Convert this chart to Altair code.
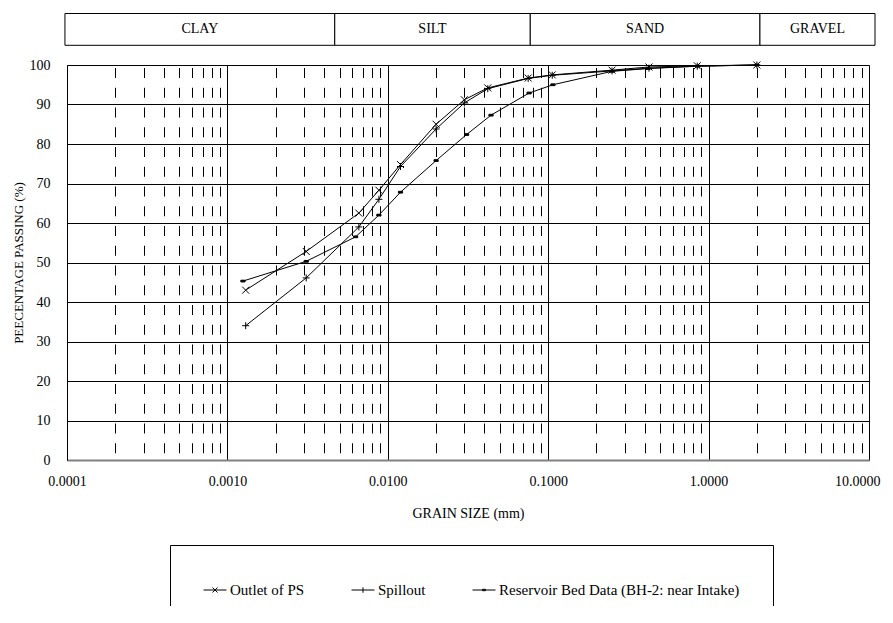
import altair as alt
import pandas as pd

# ---- data ----
series_names = ["Outlet of PS", "Spillout", "Reservoir Bed Data (BH-2: near Intake)"]

size_outlet = [0.0013, 0.0031, 0.0066, 0.0088, 0.012, 0.020, 0.030, 0.042, 0.075, 0.106, 0.25, 0.425, 0.85, 2.0]
pass_outlet = [43.0, 52.8, 62.5, 68.3, 74.8, 85.0, 91.2, 94.2, 96.7, 97.5, 98.7, 99.5, 99.8, 100.0]

size_spill = [0.0013, 0.0031, 0.0066, 0.0088, 0.012, 0.020, 0.030, 0.042, 0.075, 0.106, 0.25, 0.425, 0.85, 2.0]
pass_spill = [34.0, 46.1, 59.0, 66.0, 74.3, 83.8, 90.4, 94.0, 96.6, 97.4, 98.5, 99.2, 99.7, 100.0]

size_res = [0.00125, 0.0031, 0.0063, 0.0088, 0.012, 0.020, 0.031, 0.044, 0.076, 0.107, 0.25, 0.42, 0.86, 2.0]
pass_res = [45.3, 50.3, 56.5, 62.0, 67.8, 75.8, 82.4, 87.3, 92.9, 95.0, 98.4, 99.1, 99.7, 100.0]

band_names = ["CLAY", "SILT", "SAND", "GRAVEL"]
band_edges = [0.0000971, 0.00467, 0.0773, 2.09, 10.9]

y_ticks = [0, 10, 20, 30, 40, 50, 60, 70, 80, 90, 100]
x_ticks = [m * 10.0 ** k for k in range(-4, 1) for m in range(1, 10)] + [10.0]

# ---- tables ----
rows = []
for name, xs, ys in [(series_names[0], size_outlet, pass_outlet),
                     (series_names[1], size_spill, pass_spill),
                     (series_names[2], size_res, pass_res)]:
    for a, b in zip(xs, ys):
        rows.append({"series": name, "size": a, "pct": b})
df = pd.DataFrame(rows)

band = pd.DataFrame({
    "name": band_names,
    "lo": band_edges[:-1],
    "hi": band_edges[1:],
})
band["mid"] = (band["lo"] * band["hi"]) ** 0.5

FONT = "Liberation Serif, Times New Roman, DejaVu Serif, serif"
is_dec = "abs(log(datum.value)/LN10 - round(log(datum.value)/LN10)) < 0.001"

x_scale = alt.Scale(type="log", domain=[0.0001, 10])
y_scale = alt.Scale(domain=[0, 100])

x_axis = alt.Axis(
    values=x_ticks,
    labelExpr=f"({is_dec}) ? format(datum.value, '.4f') : ''",
    grid=True,
    gridColor="black",
    gridWidth=1,
    gridDash={"condition": {"test": is_dec, "value": []}, "value": [10, 9.75]},
    gridDashOffset=17.25,
    ticks=False,
    tickSize=0,
    domainColor="#808080",
    domainWidth=2,
    labelFont=FONT,
    labelFontSize=14,
    labelColor="black",
    labelPadding=14,
    labelFlush=False,
    labelOverlap=False,
    labelAlign={"condition": {"test": "datum.value >= 9", "value": "right"}, "value": "center"},
    labelOffset={"condition": {"test": "datum.value >= 9", "value": 11}, "value": 0},
    title="GRAIN SIZE (mm)",
    titleFont=FONT,
    titleFontSize=14,
    titleFontWeight="normal",
    titleColor="black",
    titlePadding=18,
)

y_axis = alt.Axis(
    values=y_ticks,
    tickCount=11,
    grid=True,
    gridColor="black",
    gridWidth=1,
    ticks=False,
    tickSize=0,
    domainColor="black",
    domainWidth=1,
    labelFont=FONT,
    labelFontSize=14,
    labelColor="black",
    labelPadding=17,
    labelOverlap=False,
    title="PEECENTAGE PASSING (%)",
    titleFont=FONT,
    titleFontSize=13,
    titleFontWeight="normal",
    titleColor="black",
    titlePadding=4,
)

X = alt.X("size:Q", scale=x_scale, axis=x_axis)
Y = alt.Y("pct:Q", scale=y_scale, axis=y_axis)

base = alt.Chart(df)

lines = base.mark_line(color="black", strokeWidth=1).encode(
    x=X, y=Y, detail="series:N",
)

marker_paths = [
    "M-1,-1L1,1M-1,1L1,-1",
    "M-1,0H1M0,-1V1",
    "M-0.6,-0.25H0.6V0.25H-0.6Z",
]
points = base.mark_point(filled=True, fill="black", stroke="black", strokeWidth=1,
                         size=49, opacity=1).encode(
    x=X, y=Y,
    shape=alt.Shape("series:N", scale=alt.Scale(domain=series_names, range=marker_paths),
                    legend=None),
)

legend_paths = [
    "M-1,0H1M-0.22,-0.22L0.22,0.22M-0.22,0.22L0.22,-0.22",
    "M-1,0H1M0,-0.24V0.24",
    "M-1,0H1M-0.13,-0.06H0.13V0.06H-0.13Z",
]
legend_layer = base.transform_filter("datum.pct > 1000").mark_point(
    filled=False, stroke="black", strokeWidth=1, size=529, opacity=1
).encode(
    x=X, y=Y,
    shape=alt.Shape(
        "series:N",
        scale=alt.Scale(domain=series_names, range=legend_paths),
        legend=alt.Legend(
            orient="none",
            legendX=103,
            legendY=480,
            direction="horizontal",
            title=None,
            strokeColor="black",
            fillColor="white",
            padding=33,
            columnPadding=44,
            symbolSize=529,
            symbolStrokeWidth=1,
            symbolStrokeColor="black",
            labelFont=FONT,
            labelFontSize=15,
            labelColor="black",
            labelOffset=3,
            labelLimit=400,
        ),
    ),
)

band_rect = alt.Chart(band).mark_rect(fill="white", stroke="black", strokeWidth=1,
                                      clip=False).encode(
    x=alt.X("lo:Q", scale=x_scale, axis=x_axis),
    x2="hi:Q",
    y=alt.value(-51.5),
    y2=alt.value(-19.7),
)
band_text = alt.Chart(band).mark_text(font=FONT, fontSize=14, color="black",
                                      baseline="middle", align="center").encode(
    x=alt.X("mid:Q", scale=x_scale, axis=x_axis),
    y=alt.value(-35.6),
    text="name:N",
)

chart = alt.layer(band_rect, band_text, lines, points, legend_layer).resolve_scale(
    shape="independent"
).properties(
    width=802,
    height=395,
    autosize=alt.AutoSizeParams(type="none"),
    padding={"left": 59, "top": 57, "right": 16, "bottom": 146},
).configure_view(stroke=None).configure(background="white", font=FONT)

chart.save("out.html", embed_options={"renderer": "svg", "actions": False})
